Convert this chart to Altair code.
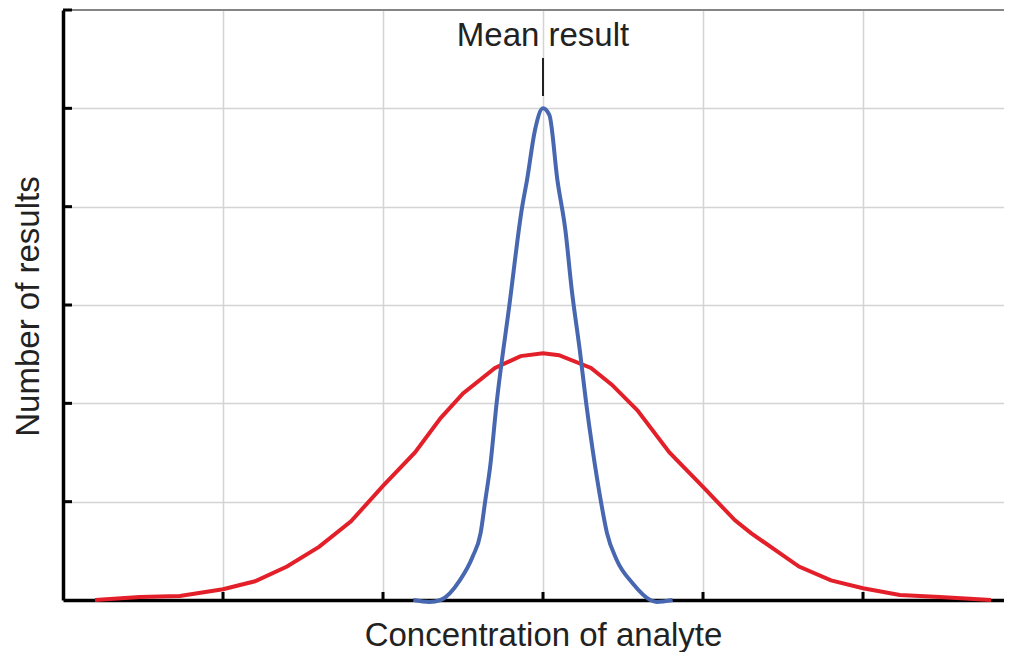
import altair as alt
import pandas as pd

# ---- data ----
red_x = [0.2, 0.48, 0.73, 1.0, 1.2, 1.4, 1.6, 1.8, 2.0, 2.2, 2.36, 2.5, 2.7, 2.86, 3.0,
         3.1, 3.3, 3.43, 3.59, 3.79, 4.0, 4.2, 4.3, 4.6, 4.8, 5.0, 5.23, 5.48, 5.8]
red_y = [0.0, 0.03, 0.04, 0.11, 0.19, 0.34, 0.54, 0.8, 1.16, 1.5, 1.85, 2.1, 2.36, 2.48, 2.51,
         2.49, 2.36, 2.19, 1.93, 1.5, 1.15, 0.81, 0.68, 0.34, 0.2, 0.12, 0.05, 0.03, 0.0]

blue_x = [2.19, 2.29, 2.36, 2.48, 2.56, 2.61, 2.64, 2.67, 2.71, 2.79, 2.87, 2.9, 2.95, 3.0,
          3.04, 3.09, 3.14, 3.18, 3.23, 3.27, 3.31, 3.36, 3.4, 3.46, 3.56, 3.67, 3.71, 3.81]
blue_y = [0.0, -0.02, 0.0, 0.2, 0.44, 0.68, 1.02, 1.36, 2.0, 3.0, 4.0, 4.27, 4.78, 5.0,
          4.93, 4.27, 3.76, 3.15, 2.54, 2.0, 1.53, 1.02, 0.68, 0.41, 0.17, 0.0, -0.02, 0.0]

x_ticks = [1, 2, 3, 4, 5]
y_ticks = [1, 2, 3, 4, 5, 6]
mean_x = [3.0]
mean_label = ["Mean result"]

W, H = 941, 590
X_MAX = W / 160
Y_MAX = 6
FONT = "Liberation Sans"
TXT = "#222222"
FS = 33

red = pd.DataFrame({"x": red_x, "y": red_y})
blue = pd.DataFrame({"x": blue_x, "y": blue_y})
xt = pd.DataFrame({"x": x_ticks})
yt = pd.DataFrame({"y": y_ticks})
mean = pd.DataFrame({"x": mean_x, "label": mean_label})

xscale = alt.Scale(domain=[0, X_MAX], nice=False, zero=False)
yscale = alt.Scale(domain=[0, Y_MAX], nice=False, zero=False)

x_axis = alt.Axis(
    values=x_ticks, labels=False, ticks=False, grid=True,
    gridColor="#d4d4d4", gridWidth=1.5,
    domain=True, domainColor="black", domainWidth=3.5,
    title="Concentration of analyte", titleFont=FONT, titleFontSize=FS,
    titleFontWeight="normal", titleColor=TXT,
    titleX=480, titleY=45, titleAlign="center", titleBaseline="alphabetic",
)
y_axis = alt.Axis(
    values=[1, 2, 3, 4, 5], labels=False, ticks=False, grid=True,
    gridColor="#d4d4d4", gridWidth=1.5,
    domain=True, domainColor="black", domainWidth=3.5,
    title="Number of results", titleFont=FONT, titleFontSize=FS,
    titleFontWeight="normal", titleColor=TXT,
    titleX=-25, titleY=296, titleAngle=270, titleAlign="center",
    titleBaseline="alphabetic",
)

# axes carrier (invisible points)
base = alt.Chart(red).mark_point(opacity=0).encode(
    x=alt.X("x:Q", scale=xscale, axis=x_axis),
    y=alt.Y("y:Q", scale=yscale, axis=y_axis),
)

top_line = alt.Chart(pd.DataFrame({"y": [Y_MAX]})).mark_rule(
    color="#858585", strokeWidth=2
).encode(y=alt.Y("y:Q", scale=yscale), x=alt.value(0), x2=alt.value(W))

left_ticks = alt.Chart(yt).mark_rule(color="black", strokeWidth=3).encode(
    y=alt.Y("y:Q", scale=yscale), x=alt.value(0), x2=alt.value(9)
)
bottom_ticks = alt.Chart(xt).mark_rule(color="black", strokeWidth=3).encode(
    x=alt.X("x:Q", scale=xscale), y=alt.value(H), y2=alt.value(H - 8)
)

red_line = alt.Chart(red).mark_line(
    color="#e3202a", strokeWidth=4, clip=False
).encode(x=alt.X("x:Q", scale=xscale), y=alt.Y("y:Q", scale=yscale))

blue_line = alt.Chart(blue).mark_line(
    color="#4767b1", strokeWidth=4, clip=False, interpolate="monotone"
).encode(x=alt.X("x:Q", scale=xscale), y=alt.Y("y:Q", scale=yscale))

mean_text = alt.Chart(mean).mark_text(
    font=FONT, fontSize=FS, color=TXT, align="center", baseline="alphabetic"
).encode(x=alt.X("x:Q", scale=xscale), y=alt.value(36), text="label:N")

mean_tick = alt.Chart(mean).mark_rule(color="#222222", strokeWidth=2).encode(
    x=alt.X("x:Q", scale=xscale), y=alt.value(48), y2=alt.value(86)
)

chart = alt.layer(
    base, top_line, left_ticks, bottom_ticks, red_line, blue_line, mean_text, mean_tick
).properties(
    width=W, height=H,
    autosize=alt.AutoSizeParams(type="none"),
    padding={"left": 55, "top": 2, "right": 0, "bottom": 52},
    background="white",
).configure_view(stroke=None)

chart.save("out.html", embed_options={"renderer": "svg", "actions": False})
